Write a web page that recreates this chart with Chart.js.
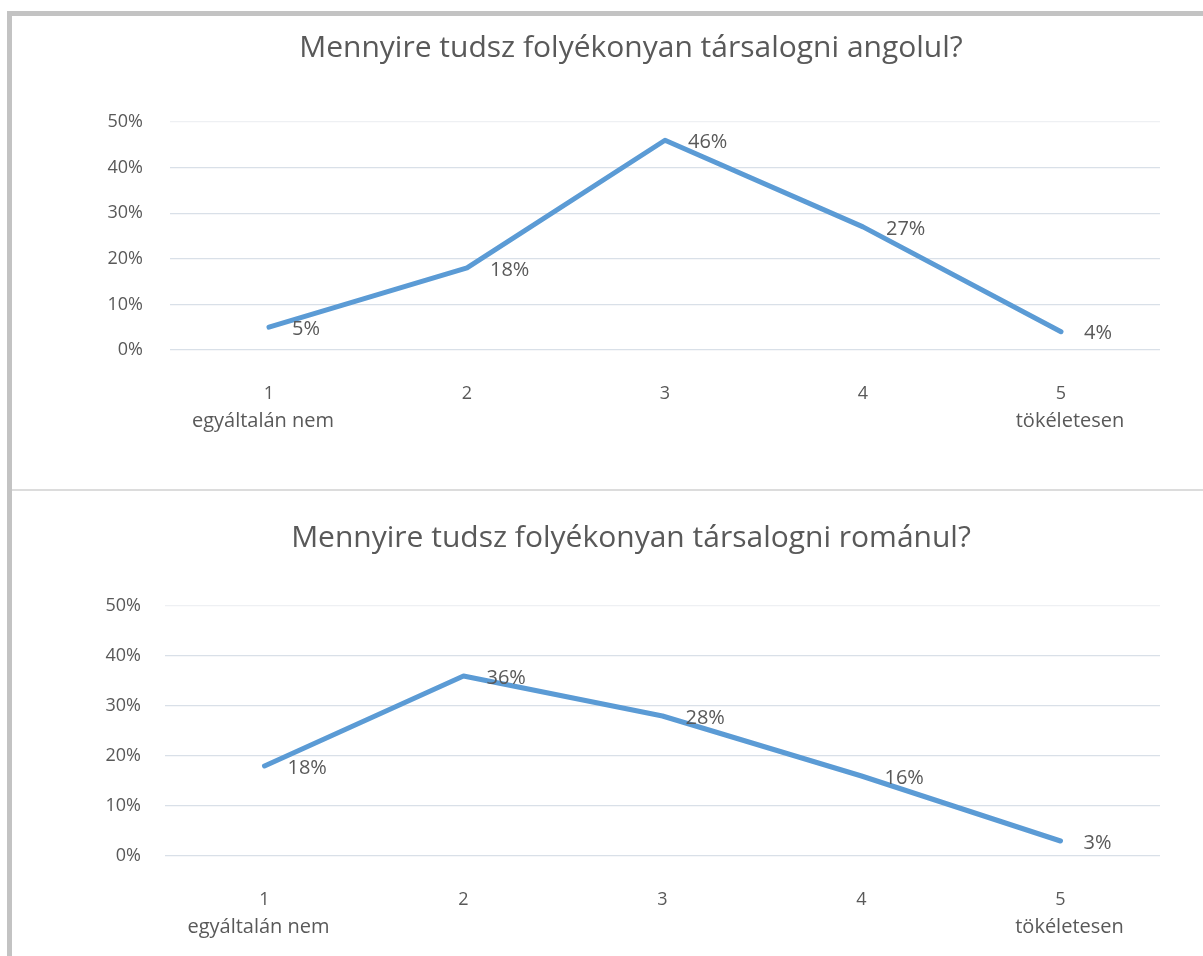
<!DOCTYPE html>
<html>
<head>
<meta charset="utf-8">
<script src="https://cdn.jsdelivr.net/npm/chart.js"></script>
<style>
  html, body { margin: 0; padding: 0; background: #fff; }
  body { width: 1203px; height: 956px; position: relative; overflow: hidden; }
  .frame-top { position: absolute; left: 7px; top: 11px; width: 1196px; height: 5px; background: #c3c3c3; }
  .frame-left { position: absolute; left: 7px; top: 11px; width: 5px; height: 945px; background: #c3c3c3; }
  .sep { position: absolute; left: 12px; top: 489px; width: 1191px; height: 2px; background: #dcdcdc; }
  .box { position: absolute; left: 12px; }
  #box1 { top: 16px; width: 1191px; height: 473px; }
  #box2 { top: 491px; width: 1191px; height: 465px; }
</style>
</head>
<body>
<div class="frame-top"></div>
<div class="frame-left"></div>
<div class="sep"></div>
<div class="box" id="box1"><canvas id="c1"></canvas></div>
<div class="box" id="box2"><canvas id="c2"></canvas></div>
<script>
const categories = ['1', '2', '3', '4', '5'];
const subLabels = ['egyáltalán nem', '', '', '', 'tökéletesen'];
const yTicks = [0, 10, 20, 30, 40, 50];

const titleEnglish = 'Mennyire tudsz folyékonyan társalogni angolul?';
const valuesEnglish = [5, 18, 46, 27, 4];

const titleRomanian = 'Mennyire tudsz folyékonyan társalogni románul?';
const valuesRomanian = [18, 36, 28, 16, 3];

const FONT = "'Open Sans', 'DejaVu Sans', sans-serif";
const TEXT = '#595959';
const LINE = '#5b9bd5';

// point labels drawn to the right of each point, like Excel's "Right" position
const pointLabels = {
  id: 'pointLabels',
  afterDatasetsDraw(chart) {
    const ctx = chart.ctx;
    const meta = chart.getDatasetMeta(0);
    const vals = chart.data.datasets[0].data;
    ctx.save();
    ctx.font = '20px ' + FONT;
    ctx.fillStyle = TEXT;
    ctx.textAlign = 'left';
    ctx.textBaseline = 'middle';
    meta.data.forEach((pt, i) => {
      ctx.fillText(vals[i] + '%', pt.x + 23, pt.y + 2);
    });
    ctx.restore();
  }
};

// second row of category labels (under 1 and 5)
const subAxisLabels = {
  id: 'subAxisLabels',
  afterDraw(chart) {
    const ctx = chart.ctx;
    const xs = chart.scales.x;
    ctx.save();
    ctx.font = '20px ' + FONT;
    ctx.fillStyle = TEXT;
    ctx.textAlign = 'center';
    ctx.textBaseline = 'middle';
    subLabels.forEach((txt, i) => {
      if (!txt) return;
      const shift = i === 0 ? -6 : 9;
      ctx.fillText(txt, xs.getPixelForTick(i) + shift, chart.chartArea.bottom + 71);
    });
    ctx.restore();
  }
};

function makeChart(canvasId, title, values, lay) {
  const canvas = document.getElementById(canvasId);
  return new Chart(canvas.getContext('2d'), {
    type: 'line',
    data: {
      labels: categories,
      datasets: [{
        data: values,
        borderColor: LINE,
        borderWidth: 5,
        pointRadius: 0,
        tension: 0,
        fill: false,
        borderCapStyle: 'round',
        borderJoinStyle: 'round',
      }],
    },
    options: {
      responsive: true,
      maintainAspectRatio: false,
      animation: false,
      layout: { padding: { left: 90, right: 43, top: 0, bottom: lay.bottom } },
      plugins: {
        legend: { display: false },
        tooltip: { enabled: false },
        title: {
          display: true,
          text: title,
          color: TEXT,
          font: { family: FONT, size: 30, weight: 'normal', lineHeight: 1.2 },
          padding: { top: lay.titleTop, bottom: lay.titleBottom },
        },
      },
      scales: {
        x: {
          offset: true,
          grid: { display: false },
          border: { display: false },
          ticks: { color: TEXT, font: { family: FONT, size: 18 }, padding: 25, maxRotation: 0 },
          afterFit(scale) { scale.height = 100; },
        },
        y: {
          min: 0,
          max: 50,
          afterBuildTicks(scale) { scale.ticks = yTicks.map((v) => ({ value: v })); },
          grid: {
            drawTicks: false,
            color: (c) => (c.tick && c.tick.value === 50 ? '#eef0f3' : '#d9e0e8'),
            lineWidth: 1.3,
          },
          border: { display: false },
          ticks: {
            color: TEXT,
            font: { family: FONT, size: 18 },
            padding: lay.yPad,
            callback: (v) => v + '%',
          },
          afterFit(scale) { scale.width = lay.yWidth; },
        },
      },
    },
    plugins: [pointLabels, subAxisLabels],
  });
}

makeChart('c1', titleEnglish, valuesEnglish, { bottom: 39, titleTop: 14, titleBottom: 56, yPad: 27, yWidth: 68 });
makeChart('c2', titleRomanian, valuesRomanian, { bottom: 0, titleTop: 29, titleBottom: 50, yPad: 24, yWidth: 63 });
</script>
</body>
</html>
